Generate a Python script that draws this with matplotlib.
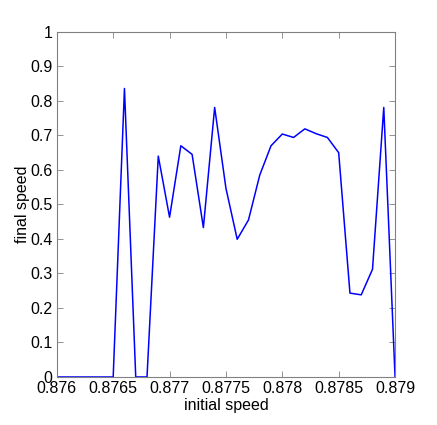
import numpy as np
import matplotlib
matplotlib.use("Agg")
import matplotlib.pyplot as plt
from matplotlib.ticker import FuncFormatter

plt.rcParams['font.family'] = ['Liberation Sans', 'DejaVu Sans']

# initial speed samples (step 0.0001) and resulting final speed
initial_speed = [0.8760, 0.8761, 0.8762, 0.8763, 0.8764, 0.8765, 0.8766, 0.8767,
                 0.8768, 0.8769, 0.8770, 0.8771, 0.8772, 0.8773, 0.8774, 0.8775,
                 0.8776, 0.8777, 0.8778, 0.8779, 0.8780, 0.8781, 0.8782, 0.8783,
                 0.8784, 0.8785, 0.8786, 0.8787, 0.8788, 0.8789, 0.8790]
final_speed = [0, 0, 0, 0, 0, 0, 0.836, 0, 0, 0.640, 0.463, 0.670, 0.645, 0.433,
               0.781, 0.547, 0.399, 0.455, 0.585, 0.670, 0.704, 0.694, 0.719,
               0.705, 0.694, 0.650, 0.243, 0.238, 0.312, 0.781, 0]

xticks = [0.876, 0.8765, 0.877, 0.8775, 0.878, 0.8785, 0.879]
yticks = [0, 0.1, 0.2, 0.3, 0.4, 0.5, 0.6, 0.7, 0.8, 0.9, 1]

fig = plt.figure(figsize=(4.37, 4.25), dpi=100)
ax = fig.add_axes([0.130, 0.113, 0.774, 0.812])

ax.plot(initial_speed, final_speed, color='#0000ff', linewidth=1.1)

ax.set_xlim(0.876, 0.879)
ax.set_ylim(0, 1)
ax.set_xticks(xticks)
ax.set_yticks(yticks)
fmt = FuncFormatter(lambda v, p: '%g' % round(v, 6))
ax.xaxis.set_major_formatter(fmt)
ax.yaxis.set_major_formatter(fmt)

grey = '#808080'
for s in ax.spines.values():
    s.set_color(grey)
    s.set_linewidth(0.8)
ax.tick_params(direction='in', length=4, width=0.6, color=grey,
               top=True, right=True, labelsize=11.5, labelcolor='black', pad=3)

ax.set_xlabel('initial speed', fontsize=11.5, labelpad=1)
ax.set_ylabel('final speed', fontsize=11.5, labelpad=0)

fig.savefig('out.png', dpi=100)
